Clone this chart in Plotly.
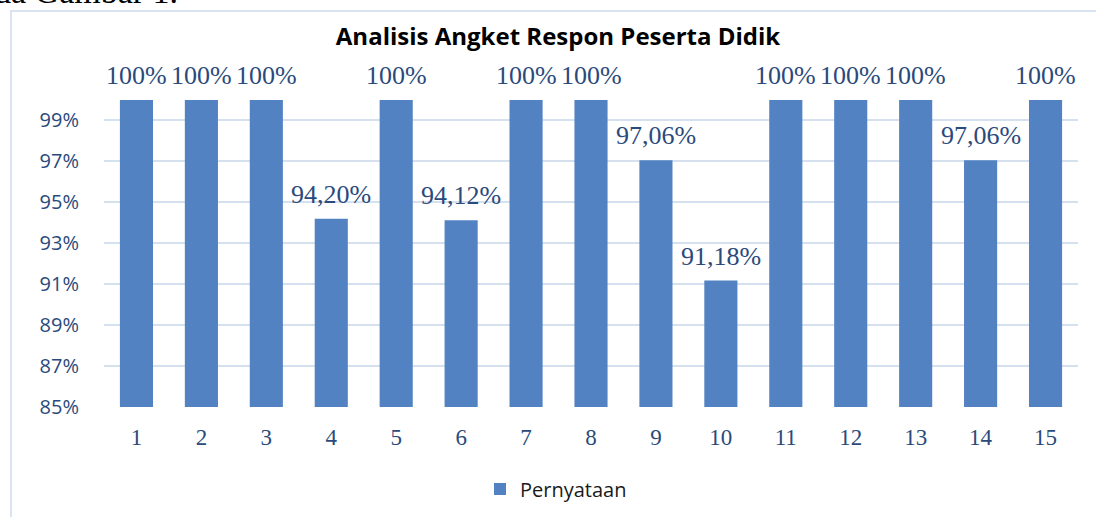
import plotly.graph_objects as go

categories = list(range(1, 16))
values = [100, 100, 100, 94.20, 100, 94.12, 100, 100, 97.06, 91.18, 100, 100, 100, 97.06, 100]
y_ticks = [85, 87, 89, 91, 93, 95, 97, 99]
y_tick_labels = [f"{t}%" for t in y_ticks]
labels = ["100%" if v == 100 else f"{v:.2f}%".replace(".", ",") for v in values]

W, H = 1096, 517
L, R, T, B = 104, 18, 100, 110
pw, ph = W - L - R, H - T - B

def px_x(p):
    return (p - L) / pw

def px_y(p):
    return (H - B - p) / ph

navy = "#2A4A7B"
grid = "#D6E1F0"

fig = go.Figure()
fig.add_trace(go.Bar(
    x=categories, y=values,
    name="Pernyataan",
    marker=dict(color="#5282C1", line=dict(width=0)),
    showlegend=True,
))

annotations = []
for c, v, t in zip(categories, values, labels):
    annotations.append(dict(
        x=c, y=v, xref="x", yref="y", text=t, showarrow=False,
        yanchor="bottom", yshift=8,
        font=dict(family="Liberation Serif", size=26, color=navy),
    ))

annotations.append(dict(
    x=px_x(-8), y=px_y(-9), xref="paper", yref="paper",
    text="da Gambar 1.", showarrow=False, xanchor="left", yanchor="middle",
    font=dict(family="Liberation Serif", size=34, color="#000000"),
))

fig.update_layout(
    width=W, height=H,
    margin=dict(l=L, r=R, t=T, b=B, autoexpand=False),
    paper_bgcolor="white", plot_bgcolor="white",
    bargap=0.49,
    title=dict(
        text="<b>Analisis Angket Respon Peserta Didik</b>",
        x=px_x(558), xref="paper", xanchor="center",
        y=1 - 37 / H, yref="container", yanchor="middle",
        font=dict(family="Open Sans", size=24, color="#000000"),
    ),
    xaxis=dict(
        range=[0.5, 15.5], tickvals=categories, ticktext=[str(c) for c in categories],
        showgrid=False, zeroline=False, showline=False,
        ticks="outside", ticklen=9, tickcolor="rgba(0,0,0,0)",
        tickfont=dict(family="Liberation Serif", size=23, color=navy),
    ),
    yaxis=dict(
        range=[85, 100], tickvals=y_ticks, ticktext=y_tick_labels,
        showgrid=True, gridcolor=grid, gridwidth=1.5,
        zeroline=False, showline=False,
        ticks="outside", ticklen=20, tickcolor="rgba(0,0,0,0)",
        tickfont=dict(family="Open Sans", size=20, color=navy),
    ),
    legend=dict(
        orientation="h", x=px_x(480), xanchor="left",
        y=px_y(489), yanchor="middle",
        font=dict(family="Open Sans", size=20, color="#1a1a1a"),
        bgcolor="rgba(0,0,0,0)",
    ),
    annotations=annotations,
    shapes=[dict(
        type="rect", xref="paper", yref="paper",
        x0=px_x(11), x1=px_x(1200), y0=px_y(600), y1=px_y(11),
        line=dict(color="#D9E3F2", width=2), fillcolor="rgba(0,0,0,0)",
        layer="below",
    )],
)

fig.write_html(
    "out.html",
    config={"displayModeBar": False},
    post_script="document.body.style.margin='0';document.body.style.overflow='hidden';",
)
